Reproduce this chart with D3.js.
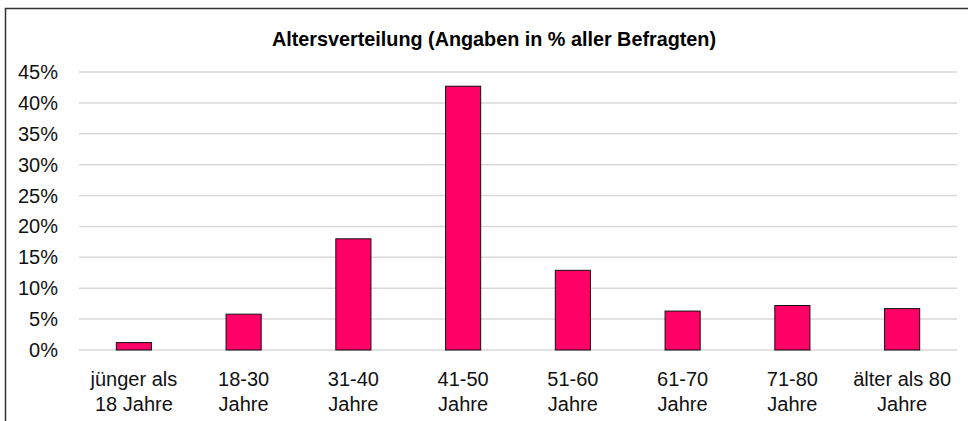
<!DOCTYPE html>
<html>
<head>
<meta charset="utf-8">
<script src="https://cdn.jsdelivr.net/npm/d3@7"></script>
<style>
  body { margin: 0; background: #fff; }
  svg { display: block; font-family: "Liberation Sans", Arial, sans-serif; }
</style>
</head>
<body>
<div id="chart"></div>
<script>
const width = 968;
const height = 421;

// data
const categories = ["jünger als|18 Jahre", "18-30|Jahre", "31-40|Jahre", "41-50|Jahre",
  "51-60|Jahre", "61-70|Jahre", "71-80|Jahre", "älter als 80|Jahre"];
const values = [1.2, 5.8, 18.0, 42.7, 12.9, 6.3, 7.2, 6.7];
const yTicks = [0, 5, 10, 15, 20, 25, 30, 35, 40, 45];
const title = "Altersverteilung (Angaben in % aller Befragten)";

const margin = { left: 79, right: 11, top: 72, bottom: 71 };

const svg = d3.select("#chart")
  .append("svg")
  .attr("width", width)
  .attr("height", height);

// outer chart frame (cropped at right and bottom)
svg.append("path")
  .attr("d", `M5.5,${height + 2} V8.5 H${width + 2}`)
  .attr("fill", "none")
  .attr("stroke", "#333")
  .attr("stroke-width", 1.5);

const x = d3.scaleBand()
  .domain(categories)
  .range([margin.left, width - margin.right])
  .paddingInner(0.68)
  .paddingOuter(0.34);

const y = d3.scaleLinear()
  .domain([0, 45])
  .range([height - margin.bottom, margin.top]);

// gridlines
svg.append("g")
  .selectAll("line")
  .data(yTicks)
  .join("line")
  .attr("x1", margin.left)
  .attr("x2", width - margin.right)
  .attr("y1", d => y(d))
  .attr("y2", d => y(d))
  .attr("stroke", "#d9d9d9")
  .attr("stroke-width", 1.5);

// y labels
svg.append("g")
  .selectAll("text")
  .data(yTicks)
  .join("text")
  .attr("x", 58)
  .attr("y", d => y(d))
  .attr("dy", "0.35em")
  .attr("text-anchor", "end")
  .attr("font-size", 20)
  .attr("fill", "#111")
  .text(d => d + "%");

// bars
svg.append("g")
  .selectAll("rect")
  .data(values)
  .join("rect")
  .attr("x", (d, i) => x(categories[i]))
  .attr("width", x.bandwidth())
  .attr("y", d => y(d))
  .attr("height", d => y(0) - y(d))
  .attr("fill", "#ff0066")
  .attr("stroke", "#111")
  .attr("stroke-width", 1);

// category labels
const lab = svg.append("g")
  .selectAll("text")
  .data(categories)
  .join("text")
  .attr("x", d => x(d) + x.bandwidth() / 2)
  .attr("y", 386)
  .attr("text-anchor", "middle")
  .attr("font-size", 20)
  .attr("fill", "#111");

lab.selectAll("tspan")
  .data(d => d.split("|"))
  .join("tspan")
  .attr("x", function() { return d3.select(this.parentNode).attr("x"); })
  .attr("dy", (d, i) => i === 0 ? 0 : 25)
  .text(d => d);

// title
svg.append("text")
  .attr("x", 494)
  .attr("y", 46)
  .attr("text-anchor", "middle")
  .attr("font-size", 19.8)
  .attr("font-weight", "bold")
  .attr("fill", "#000")
  .text(title);
</script>
</body>
</html>
